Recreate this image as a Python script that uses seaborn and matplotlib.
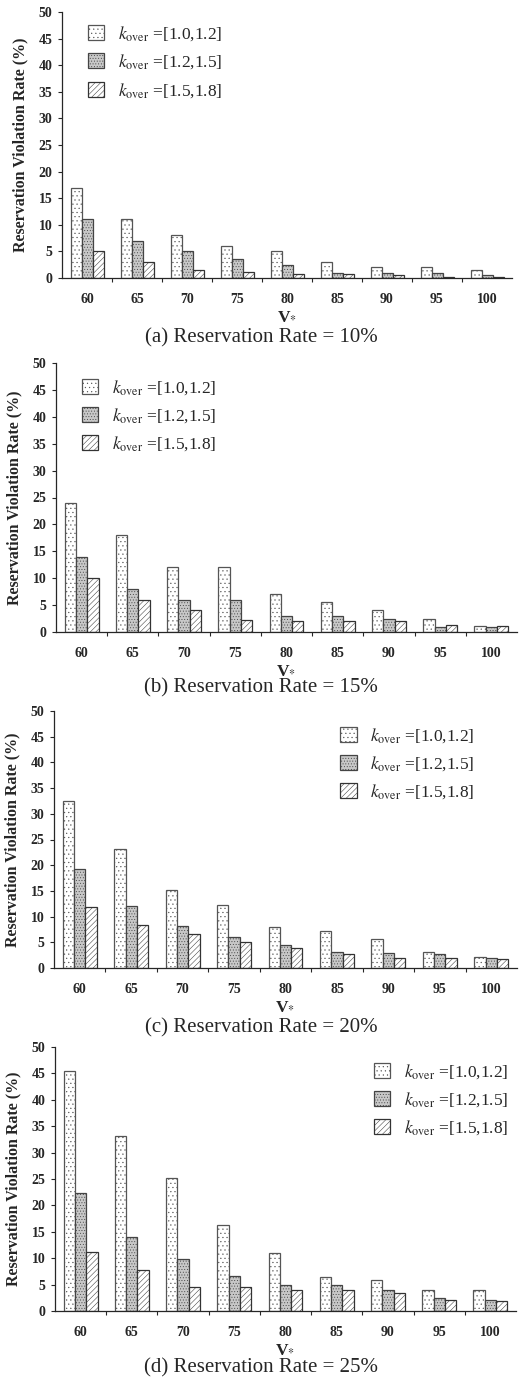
import matplotlib
matplotlib.use("Agg")
import matplotlib.pyplot as plt
import numpy as np
import pandas as pd
import seaborn as sns

sns.set_style("ticks")
plt.rcParams["font.family"] = ["Liberation Serif", "DejaVu Serif"]
plt.rcParams["mathtext.fontset"] = "stix"
plt.rcParams["hatch.linewidth"] = 0.35

# ── Data ──────────────────────────────────────────────────────────────────────
V_VALUES = [60, 65, 70, 75, 80, 85, 90, 95, 100]
K_RANGES = ["[1.0,1.2]", "[1.2,1.5]", "[1.5,1.8]"]

# (a) Reservation Rate = 10%
rate10_k1 = [17, 11, 8, 6, 5, 3, 2, 2, 1.5]
rate10_k2 = [11, 7, 5, 3.5, 2.4, 1, 1, 1, 0.5]
rate10_k3 = [5, 3, 1.5, 1.1, 0.8, 0.8, 0.5, 0.1, 0.1]

# (b) Reservation Rate = 15%
rate15_k1 = [24, 18, 12, 12, 7, 5.5, 4, 2.5, 1.2]
rate15_k2 = [14, 8, 6, 6, 3, 3, 2.5, 1, 1]
rate15_k3 = [10, 6, 4, 2.3, 2, 2, 2, 1.3, 1.2]

# (c) Reservation Rate = 20%
rate20_k1 = [32.5, 23.2, 15.1, 12.2, 8.0, 7.2, 5.6, 3.1, 2.1]
rate20_k2 = [19.2, 12.1, 8.2, 6.0, 4.5, 3.1, 2.9, 2.7, 1.9]
rate20_k3 = [11.8, 8.3, 6.7, 5.0, 3.9, 2.8, 1.9, 1.9, 1.7]

# (d) Reservation Rate = 25%
rate25_k1 = [45.5, 33.1, 25.2, 16.3, 11.0, 6.4, 5.9, 4.0, 4.0]
rate25_k2 = [22.3, 14.1, 9.8, 6.6, 5.0, 5.0, 4.0, 2.5, 2.0]
rate25_k3 = [11.1, 7.7, 4.5, 4.5, 4.0, 4.0, 3.5, 2.0, 1.8]

CAPTIONS = ["(a) Reservation Rate = 10%", "(b) Reservation Rate = 15%",
            "(c) Reservation Rate = 20%", "(d) Reservation Rate = 25%"]

# ── Layout (pixel-based) ──────────────────────────────────────────────────────
W, H = 525, 1381
# left, right, top, bottom of each axes in pixels
AX_PX = [(62, 512, 12, 278), (56, 517, 363, 632),
         (54, 517, 711, 968), (55, 516, 1047, 1311)]
CAPTION_Y = [338, 688, 1028, 1368]
LEGEND_ANCHOR = [(0.03, 1.0), (0.03, 0.99), (0.935, 0.99), (1.01, 0.99)]
LEGEND_LOC = ["upper left", "upper left", "upper right", "upper right"]

BAR_STYLES = [
    dict(facecolor="white", hatch="....", edgecolor="#555555"),
    dict(facecolor="#c8c8c8", hatch="......", edgecolor="#444444"),
    dict(facecolor="white", hatch="//////", edgecolor="#333333"),
]


def make_frame(k1, k2, k3) -> pd.DataFrame:
    rows = []
    for k, vals in zip(K_RANGES, (k1, k2, k3)):
        for v, r in zip(V_VALUES, vals):
            rows.append({"V": str(v), "k": k, "rate": r})
    return pd.DataFrame(rows)


def draw_panel(fig, idx, df):
    l, r, t, b = AX_PX[idx]
    ax = fig.add_axes([l / W, 1 - b / H, (r - l) / W, (b - t) / H])
    sns.barplot(data=df, x="V", y="rate", hue="k", hue_order=K_RANGES,
                width=0.66, gap=0, ax=ax, legend=False, errorbar=None)

    for cont, style in zip(ax.containers, BAR_STYLES):
        for p in cont.patches:
            p.set_facecolor(style["facecolor"])
            p.set_edgecolor(style["edgecolor"])
            p.set_hatch(style["hatch"])
            p.set_linewidth(0.9)

    ax.set_ylim(0, 50)
    ax.set_xlim(-0.5, len(V_VALUES) - 0.5)
    ax.set_yticks(np.arange(0, 51, 5))
    ax.set_xticks(np.arange(len(V_VALUES)))
    ax.set_xticks(np.arange(len(V_VALUES) - 1) + 0.5, minor=True)
    ax.tick_params(axis="x", which="major", length=0, pad=11, labelsize=10)
    ax.tick_params(axis="x", which="minor", length=3, direction="out", width=0.8)
    ax.tick_params(axis="y", length=3, direction="out", width=0.8, labelsize=10, pad=4)
    for lab in ax.get_xticklabels() + ax.get_yticklabels():
        lab.set_fontweight("bold")

    sns.despine(ax=ax)
    ax.spines["left"].set_linewidth(0.9)
    ax.spines["bottom"].set_linewidth(0.9)

    ax.set_ylabel("Reservation Violation Rate (%)", fontsize=11.5,
                  fontweight="bold", labelpad=7)
    ax.set_xlabel(r"V$_{*}$", fontsize=12.5, fontweight="bold", labelpad=1)

    labels = [r"$k_{\mathrm{over}}$ =" + k for k in K_RANGES]
    ax.legend(ax.containers, labels, loc=LEGEND_LOC[idx],
              bbox_to_anchor=LEGEND_ANCHOR[idx], frameon=False, fontsize=12.5,
              handlelength=0.95, handleheight=0.95, labelspacing=0.55,
              handletextpad=0.8, borderaxespad=0.3)

    fig.text(261 / W, 1 - CAPTION_Y[idx] / H, CAPTIONS[idx], ha="center",
             va="center", fontsize=15)
    return ax


def main() -> None:
    fig = plt.figure(figsize=(W / 100, H / 100), dpi=100)
    frames = [
        make_frame(rate10_k1, rate10_k2, rate10_k3),
        make_frame(rate15_k1, rate15_k2, rate15_k3),
        make_frame(rate20_k1, rate20_k2, rate20_k3),
        make_frame(rate25_k1, rate25_k2, rate25_k3),
    ]
    for i, df in enumerate(frames):
        draw_panel(fig, i, df)
    fig.savefig("out.png", dpi=100)
    plt.close(fig)


if __name__ == "__main__":
    main()
